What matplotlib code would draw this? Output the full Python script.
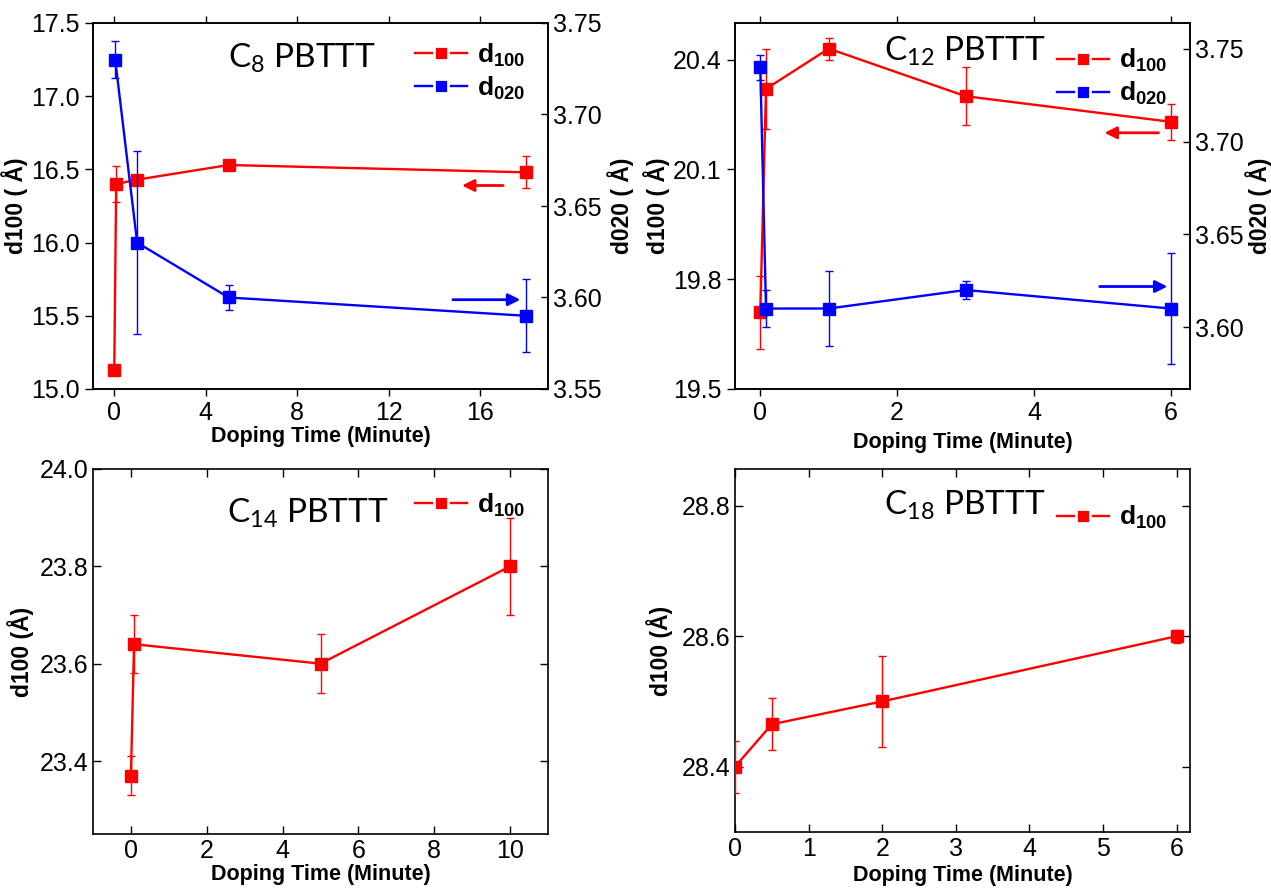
import matplotlib
matplotlib.use("Agg")
import matplotlib.pyplot as plt
from matplotlib.lines import Line2D
from matplotlib.ticker import FormatStrFormatter, MultipleLocator

plt.rcParams['font.family'] = ['Liberation Sans', 'DejaVu Sans']
plt.rcParams['mathtext.fontset'] = 'custom'
plt.rcParams['mathtext.rm'] = 'Liberation Sans'
plt.rcParams['mathtext.bf'] = 'Liberation Sans:bold'

RED = '#ff0000'
BLUE = '#0000ff'

# ---------------- data ----------------
# C8 PBTTT
c8_t_d100 = [0, 0.083, 1, 5, 18]
c8_d100 = [15.13, 16.40, 16.43, 16.53, 16.48]
c8_d100_err = [0.02, 0.12, 0.02, 0.03, 0.11]
c8_t_d020 = [0.04, 1, 5, 18]
c8_d020 = [3.73, 3.63, 3.60, 3.59]
c8_d020_err = [0.01, 0.05, 0.007, 0.02]

# C12 PBTTT
c12_t = [0, 0.083, 1, 3, 6]
c12_d100 = [19.71, 20.32, 20.43, 20.30, 20.23]
c12_d100_err = [0.10, 0.11, 0.03, 0.08, 0.05]
c12_d020 = [3.74, 3.61, 3.61, 3.62, 3.61]
c12_d020_err = [0.007, 0.01, 0.02, 0.005, 0.03]

# C14 PBTTT
c14_t = [0, 0.083, 5, 10]
c14_d100 = [23.37, 23.64, 23.60, 23.80]
c14_d100_err = [0.04, 0.06, 0.06, 0.10]

# C18 PBTTT
c18_t = [0, 0.5, 2, 6]
c18_d100 = [28.40, 28.465, 28.50, 28.60]
c18_d100_err = [0.04, 0.04, 0.07, 0.01]

# arrows (tail x, head x, y on left axis)
c8_red_arrow = (17.0, 15.2, 16.39)
c8_blue_arrow = (14.8, 17.75, 15.61)
c12_red_arrow = (5.82, 5.03, 20.20)
c12_blue_arrow = (4.96, 5.95, 19.78)

W, H = 1271, 892
fig = plt.figure(figsize=(W / 100, H / 100), dpi=100)


def rect(l, r, t, b):
    return [l / W, 1 - b / H, (r - l) / W, (b - t) / H]


TICK_FS = 18
LAB_FS = 15.5
YLAB_FS = 16.5
LEG_FS = 19
TITLE_FS = 24


def series(ax, x, y, e, c):
    ax.errorbar(x, y, yerr=e, color=c, lw=1.7, marker='s', ms=8,
                ecolor=c, elinewidth=1.0, capsize=3, capthick=1.0,
                zorder=3)


def style_axes(ax):
    for s in ax.spines.values():
        s.set_linewidth(1.2)
    ax.tick_params(labelsize=TICK_FS, width=1.0)


def legend(ax, entries, anchor):
    handles = [Line2D([], [], color=c, lw=1.7, marker='s', ms=10,
                      mec='white', mew=2.0, mfc=c) for c, _ in entries]
    labels = [l for _, l in entries]
    leg = ax.legend(handles, labels, loc='upper right', bbox_to_anchor=anchor,
                    frameon=False, handlelength=2.0, handletextpad=0.35,
                    labelspacing=0.2, borderpad=0.2,
                    prop={'family': 'Liberation Sans', 'weight': 'bold',
                          'size': LEG_FS})
    return leg


def title(ax, txt, x, y):
    ax.text(x, y, txt, transform=ax.transAxes, ha='center', va='baseline',
            fontsize=TITLE_FS, family=['Lato', 'DejaVu Sans'], zorder=5)


def arrow(ax, spec, color):
    x0, x1, y = spec
    ax.annotate('', xy=(x1, y), xytext=(x0, y),
                arrowprops=dict(arrowstyle='-|>', color=color, lw=2.0,
                                mutation_scale=18, shrinkA=0, shrinkB=0))


leg100 = r'd$_{\mathregular{100}}$'
leg020 = r'd$_{\mathregular{020}}$'

# ---------------- Panel 1 : C8 ----------------
ax1 = fig.add_axes(rect(93, 548, 23, 389))
ax1b = ax1.twinx()
series(ax1, c8_t_d100, c8_d100, c8_d100_err, RED)
series(ax1b, c8_t_d020, c8_d020, c8_d020_err, BLUE)
ax1.set_xlim(-0.93, 18.96)
ax1.set_ylim(15.0, 17.5)
ax1b.set_ylim(3.55, 3.75)
ax1.set_xticks([0, 4, 8, 12, 16])
ax1.set_yticks([15.0, 15.5, 16.0, 16.5, 17.0, 17.5])
ax1.yaxis.set_major_formatter(FormatStrFormatter('%.1f'))
ax1b.set_yticks([3.55, 3.60, 3.65, 3.70, 3.75])
ax1b.yaxis.set_major_formatter(FormatStrFormatter('%.2f'))
ax1.tick_params(axis='x', direction='out', top=True, labeltop=False, length=5)
ax1.tick_params(axis='y', direction='out', length=6)
ax1b.tick_params(axis='y', direction='in', length=5)
style_axes(ax1)
style_axes(ax1b)
ax1.set_xlabel('Doping Time (Minute)', fontsize=LAB_FS, fontweight='bold',
               labelpad=1)
ax1.set_ylabel('d100 ( Å)', fontsize=YLAB_FS, fontweight='bold', labelpad=2)
ax1b.set_ylabel('d020 ( Å)', fontsize=YLAB_FS, fontweight='bold', labelpad=4)
arrow(ax1, c8_red_arrow, RED)
arrow(ax1, c8_blue_arrow, BLUE)
title(ax1, r'C$_{\mathregular{8}}$ PBTTT', 0.459, 0.88)
legend(ax1b, [(RED, leg100), (BLUE, leg020)], (0.99, 1.0))

# ---------------- Panel 2 : C12 ----------------
ax2 = fig.add_axes(rect(735, 1190, 23, 389))
ax2b = ax2.twinx()
series(ax2, c12_t, c12_d100, c12_d100_err, RED)
series(ax2b, c12_t, c12_d020, c12_d020_err, BLUE)
ax2.set_xlim(-0.37, 6.28)
ax2.set_ylim(19.5, 20.5)
ax2b.set_ylim(3.5666, 3.764)
ax2.set_xticks([0, 2, 4, 6])
ax2.set_yticks([19.5, 19.8, 20.1, 20.4])
ax2.yaxis.set_major_formatter(FormatStrFormatter('%.1f'))
ax2b.set_yticks([3.60, 3.65, 3.70, 3.75])
ax2b.yaxis.set_major_formatter(FormatStrFormatter('%.2f'))
ax2.tick_params(axis='x', direction='out', top=True, labeltop=False, length=5)
ax2.tick_params(axis='y', direction='out', length=6)
ax2b.tick_params(axis='y', direction='in', length=5)
style_axes(ax2)
style_axes(ax2b)
ax2.set_xlabel('Doping Time (Minute)', fontsize=LAB_FS, fontweight='bold',
               labelpad=5)
ax2.set_ylabel('d100 ( Å)', fontsize=YLAB_FS, fontweight='bold', labelpad=2)
ax2b.set_ylabel('d020 ( Å)', fontsize=YLAB_FS, fontweight='bold', labelpad=1)
arrow(ax2, c12_red_arrow, RED)
arrow(ax2, c12_blue_arrow, BLUE)
title(ax2, r'C$_{\mathregular{12}}$ PBTTT', 0.504, 0.898)
legend(ax2b, [(RED, leg100), (BLUE, leg020)], (0.99, 0.985))

# ---------------- Panel 3 : C14 ----------------
ax3 = fig.add_axes(rect(93, 548, 469, 834))
series(ax3, c14_t, c14_d100, c14_d100_err, RED)
ax3.set_xlim(-1.0, 11.0)
ax3.set_ylim(23.25, 24.0)
ax3.set_xticks([0, 2, 4, 6, 8, 10])
ax3.set_yticks([23.4, 23.6, 23.8, 24.0])
ax3.yaxis.set_major_formatter(FormatStrFormatter('%.1f'))
ax3.tick_params(direction='in', top=True, right=True, length=6)
style_axes(ax3)
ax3.set_xlabel('Doping Time (Minute)', fontsize=LAB_FS, fontweight='bold',
               labelpad=1)
ax3.set_ylabel('d100 (Å)', fontsize=YLAB_FS, fontweight='bold', labelpad=4)
title(ax3, r'C$_{\mathregular{14}}$ PBTTT', 0.473, 0.855)
legend(ax3, [(RED, leg100)], (0.99, 0.99))

# ---------------- Panel 4 : C18 ----------------
ax4 = fig.add_axes(rect(735, 1190, 469, 832))
series(ax4, c18_t, c18_d100, c18_d100_err, RED)
ax4.set_xlim(0, 6.18)
ax4.set_ylim(28.3, 28.856)
ax4.set_xticks([0, 1, 2, 3, 4, 5, 6])
ax4.set_yticks([28.4, 28.6, 28.8])
ax4.yaxis.set_major_formatter(FormatStrFormatter('%.1f'))
ax4.tick_params(direction='in', top=True, right=True, length=6)
style_axes(ax4)
ax4.set_xlabel('Doping Time (Minute)', fontsize=LAB_FS, fontweight='bold',
               labelpad=3)
ax4.set_ylabel('d100 (Å)', fontsize=YLAB_FS, fontweight='bold', labelpad=6)
title(ax4, r'C$_{\mathregular{18}}$ PBTTT', 0.504, 0.874)
legend(ax4, [(RED, leg100)], (0.99, 0.955))

fig.savefig('out.png', dpi=100)
